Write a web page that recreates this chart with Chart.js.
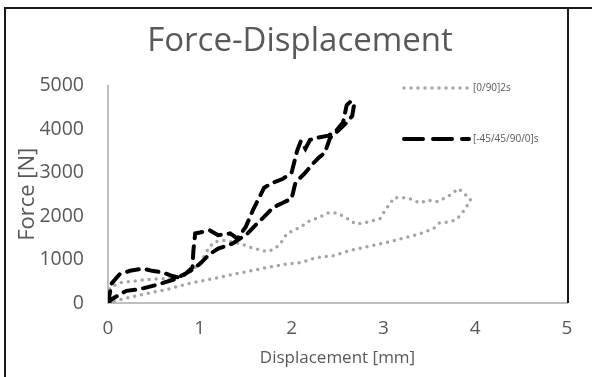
<!DOCTYPE html>
<html>
<head>
<meta charset="utf-8">
<script src="https://cdn.jsdelivr.net/npm/chart.js@4/dist/chart.umd.min.js"></script>
<style>
  html, body { margin: 0; padding: 0; background: #fff; }
  #wrap { position: relative; width: 592px; height: 377px; }
</style>
</head>
<body>
<div id="wrap"><canvas id="chart"></canvas></div>
<script>
// displacement [mm] / force [N] (loading branch, then unloading)
const grayLabel = '[0/90]2s';
const grayDisp = [0, 0.02, 0.13, 0.38, 0.6, 0.79, 0.9, 1.0, 1.08, 1.15, 1.26, 1.44, 1.55, 1.73, 1.82, 1.88, 1.95, 2.1, 2.2, 2.28,
    2.39, 2.5, 2.64, 2.7, 2.83, 2.97, 3.02, 3.08, 3.11, 3.26, 3.4, 3.48, 3.59, 3.71, 3.82, 3.87, 3.93, 3.95,
    3.93, 3.89, 3.84, 3.78, 3.7, 3.61, 3.55, 3.41, 3.22, 3.05, 2.83, 2.64, 2.46, 2.28, 2.1, 1.95, 1.55, 1.19, 0.86, 0.64, 0.38, 0.1, 0];
const grayForce = [0, 350, 465, 530, 560, 600, 750, 900, 1200, 1400, 1440, 1370, 1280, 1180, 1250, 1370, 1600, 1750, 1900, 1950,
    2070, 2070, 1900, 1810, 1860, 1950, 2140, 2300, 2420, 2420, 2300, 2370, 2330, 2460, 2630, 2530, 2420, 2390,
    2300, 2160, 2020, 1900, 1860, 1840, 1720, 1600, 1490, 1400, 1300, 1210, 1090, 1050, 930, 900, 740, 580, 440, 310, 200, 60, 0];

const blackLabel = '[-45/45/90/0]s';
const blackDisp = [0, 0.04, 0.13, 0.24, 0.38, 0.48, 0.6, 0.7, 0.79, 0.86, 0.92, 0.93, 0.95, 1.0, 1.11, 1.2, 1.33, 1.41, 1.5, 1.58,
    1.7, 1.8, 1.9, 2.0, 2.06, 2.1, 2.15, 2.2, 2.28, 2.4, 2.48, 2.56, 2.6, 2.65, 2.68,
    2.66, 2.6, 2.5, 2.42, 2.36, 2.3, 2.23, 2.15, 2.08, 2.04, 2.0, 1.9, 1.8, 1.7, 1.63, 1.52, 1.36, 1.2, 1.11, 1.0, 0.9, 0.73, 0.57, 0.35, 0.2, 0.05, 0];
const blackForce = [0, 450, 670, 740, 790, 740, 700, 620, 580, 700, 820, 1200, 1600, 1620, 1670, 1560, 1600, 1480, 1750, 2140,
    2650, 2770, 2850, 3000, 3500, 3720, 3550, 3750, 3800, 3850, 3950, 4150, 4550, 4650, 4550,
    4300, 4150, 3950, 3800, 3450, 3350, 3200, 3000, 2850, 2750, 2400, 2300, 2200, 1980, 1840, 1600, 1370, 1250, 1130, 900, 740, 550, 440, 320, 280, 100, 0];

const xTicks = [0, 1, 2, 3, 4, 5];
const yTicks = [0, 1000, 2000, 3000, 4000, 5000];

const textColor = '#595959';
const fontFamily = '"Open Sans", sans-serif';

const toPoints = (xs, ys) => xs.map((x, i) => ({ x: x, y: ys[i] }));

// frame lines and the legend in the upper right of the plot
const decorations = {
    id: 'decorations',
    afterDraw(chart) {
        const ctx = chart.ctx;
        const area = chart.chartArea;
        ctx.save();
        ctx.strokeStyle = '#1a1a1a';
        ctx.lineWidth = 2;
        ctx.beginPath();
        ctx.moveTo(5, 377);
        ctx.lineTo(5, 8);
        ctx.lineTo(592, 8);
        ctx.moveTo(area.right + 1, 8);
        ctx.lineTo(area.right + 1, area.bottom);
        ctx.stroke();

        const rows = [
            { ds: chart.data.datasets[0], y: 88, dash: [0, 7] },
            { ds: chart.data.datasets[1], y: 139, dash: [19, 10] }
        ];
        ctx.font = '10px ' + fontFamily;
        ctx.textBaseline = 'middle';
        for (const row of rows) {
            ctx.beginPath();
            ctx.strokeStyle = row.ds.borderColor;
            ctx.lineWidth = row.ds.borderWidth;
            ctx.lineCap = row.ds.borderCapStyle;
            ctx.setLineDash(row.dash);
            ctx.moveTo(404, row.y);
            ctx.lineTo(469, row.y);
            ctx.stroke();
            ctx.setLineDash([]);
            ctx.fillStyle = textColor;
            ctx.fillText(row.ds.label, 473, row.y);
        }
        ctx.restore();
    }
};

new Chart(document.getElementById('chart'), {
    type: 'scatter',
    data: {
        datasets: [
            {
                label: grayLabel,
                data: toPoints(grayDisp, grayForce),
                showLine: true,
                borderColor: '#a5a5a5',
                borderWidth: 3.5,
                borderDash: [0, 7],
                borderCapStyle: 'round',
                pointRadius: 0,
                tension: 0,
                order: 1
            },
            {
                label: blackLabel,
                data: toPoints(blackDisp, blackForce),
                showLine: true,
                borderColor: '#000000',
                borderWidth: 4,
                borderDash: [12, 8],
                borderCapStyle: 'round',
                pointRadius: 0,
                tension: 0,
                order: 0
            }
        ]
    },
    options: {
        responsive: true,
        maintainAspectRatio: false,
        animation: false,
        layout: { padding: { left: 8, right: 0, top: 0, bottom: 0 } },
        plugins: {
            legend: { display: false },
            tooltip: { enabled: false },
            title: {
                display: true,
                text: 'Force-Displacement',
                color: textColor,
                font: { family: fontFamily, size: 33, weight: 'normal', lineHeight: 1.2 },
                padding: { top: 22, bottom: 24 }
            }
        },
        scales: {
            x: {
                type: 'linear',
                min: 0,
                max: 5,
                afterBuildTicks: scale => { scale.ticks = xTicks.map(v => ({ value: v })); },
                afterFit: scale => { scale.height = 74; },
                grid: { display: false, drawTicks: false },
                border: { display: true, color: '#bfbfbf', width: 2 },
                ticks: {
                    color: textColor, padding: 14,
                    font: { family: fontFamily, size: 19 },
                    callback: v => String(v)
                },
                title: {
                    display: true,
                    text: 'Displacement [mm]',
                    color: textColor,
                    font: { family: fontFamily, size: 17 },
                    padding: { top: 0, bottom: 9 }
                }
            },
            y: {
                type: 'linear',
                min: 0,
                max: 5000,
                afterBuildTicks: scale => { scale.ticks = yTicks.map(v => ({ value: v })); },
                afterFit: scale => { scale.width = 100; },
                grid: { display: false, drawTicks: false },
                border: { display: true, color: '#bfbfbf', width: 2 },
                ticks: {
                    color: textColor, padding: 24,
                    font: { family: fontFamily, size: 19.5 },
                    callback: v => String(v)
                },
                title: {
                    display: true,
                    text: 'Force [N]',
                    color: textColor,
                    font: { family: fontFamily, size: 22 },
                    padding: { top: 7, bottom: 0 }
                }
            },
            // empty right-hand axis, only keeps the plot clear of the right margin
            yRight: {
                type: 'linear',
                position: 'right',
                min: 0,
                max: 5000,
                afterFit: scale => { scale.width = 25; },
                grid: { display: false, drawTicks: false },
                border: { display: false },
                ticks: { display: false }
            }
        }
    },
    plugins: [decorations]
});
</script>
</body>
</html>
